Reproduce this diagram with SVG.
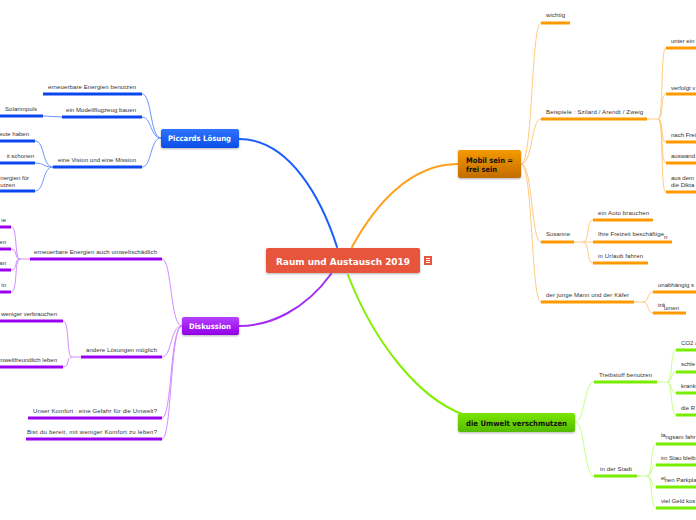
<svg xmlns="http://www.w3.org/2000/svg" width="696" height="520" viewBox="0 0 696 520">
<defs>
<linearGradient id="gBlue" x1="0" y1="0" x2="0" y2="1"><stop offset="0" stop-color="#2f74ff"/><stop offset="1" stop-color="#0a4de6"/></linearGradient>
<linearGradient id="gPurple" x1="0" y1="0" x2="0" y2="1"><stop offset="0" stop-color="#b640ff"/><stop offset="1" stop-color="#9300e6"/></linearGradient>
<linearGradient id="gOrange" x1="0" y1="0" x2="0" y2="1"><stop offset="0" stop-color="#f59a00"/><stop offset="1" stop-color="#c26c00"/></linearGradient>
<linearGradient id="gGreen" x1="0" y1="0" x2="0" y2="1"><stop offset="0" stop-color="#7ae600"/><stop offset="1" stop-color="#55bb00"/></linearGradient>
<filter id="sh" x="-10%" y="-20%" width="120%" height="150%"><feDropShadow dx="0" dy="1" stdDeviation="0.8" flood-color="#000" flood-opacity="0.3"/></filter>
</defs>
<style>
text{font-family:"Liberation Sans",Arial,sans-serif;}
.t{font-size:6px;fill:#333;}
.nt{font-family:"DejaVu Sans","Liberation Sans",sans-serif;font-weight:bold;}
.main{fill:none;stroke-width:2;stroke-linecap:round;}
.sub{fill:none;stroke-width:1;}
.ul{fill:none;stroke-width:3;stroke-linecap:butt;}
.b{stroke:#6f94ff;} .bu{stroke:#0a47ee;}
.p{stroke:#cf8cff;} .pu{stroke:#9b00f0;}
.o{stroke:#ffcb80;} .ou{stroke:#ff9900;}
.g{stroke:#c6ff8a;} .gu{stroke:#77ee00;}
</style>
<rect width="696" height="520" fill="#fff"/>

<g id="connectors">
<path class="main" stroke="#1a5cff" d="M337,247 C322,200 290,139 239,139"/>
<path class="main" stroke="#ff9f1a" d="M352,247 C375,205 410,164 458,164"/>
<path class="main" stroke="#a52cf5" d="M331,274 C305,310 270,326 239,326"/>
<path class="main" stroke="#80f000" d="M348,275 C375,345 420,398 462,414"/>

<path class="sub b" d="M161,138 C150,138 152,94 142,94"/>
<path class="sub b" d="M161,138 C150,138 152,117 142,117"/>
<path class="sub b" d="M161,138 C150,138 152,167 142,167"/>
<path class="sub b" d="M62,117 L43,116"/>
<path class="sub b" d="M53,167 C42,167 45,141 35,141"/>
<path class="sub b" d="M53,167 C42,167 45,163 35,163"/>
<path class="sub b" d="M53,167 C42,167 45,191 35,191"/>

<path class="sub p" d="M182,326 C170,326 172,259 162,259"/>
<path class="sub p" d="M182,326 C170,326 172,357 162,357"/>
<path class="sub p" d="M182,326 C170,326 172,418 162,418"/>
<path class="sub p" d="M182,326 C170,326 172,439 162,439"/>
<path class="sub p" d="M30,259 L20,259"/>
<path class="sub p" d="M20,259 C14,259 18,227 11,227"/>
<path class="sub p" d="M20,259 C14,259 18,249 11,249"/>
<path class="sub p" d="M20,259 C14,259 18,270 11,270"/>
<path class="sub p" d="M20,259 C14,259 18,292 11,292"/>
<path class="sub p" d="M81,357 L72,357"/>
<path class="sub p" d="M72,357 C66,357 70,321 63,321"/>
<path class="sub p" d="M72,357 C66,357 70,367 63,367"/>

<path class="sub o" d="M521,164 C533,164 531,23 541,23"/>
<path class="sub o" d="M521,164 C533,164 531,119 541,119"/>
<path class="sub o" d="M521,164 C533,164 531,242 541,242"/>
<path class="sub o" d="M521,164 C533,164 531,302 541,302"/>
<path class="sub o" d="M647,119 L658,119"/>
<path class="sub o" d="M658,119 C664,119 660,48 666,48"/>
<path class="sub o" d="M658,119 C664,119 660,94 666,94"/>
<path class="sub o" d="M658,119 C664,119 660,142 666,142"/>
<path class="sub o" d="M658,119 C664,119 660,163 666,163"/>
<path class="sub o" d="M658,119 C664,119 660,192 666,192"/>
<path class="sub o" d="M574,242 L583,242"/>
<path class="sub o" d="M583,242 C590,242 586,220 593,220"/>
<path class="sub o" d="M583,242 L593,242"/>
<path class="sub o" d="M583,242 C590,242 586,263 593,263"/>
<path class="sub o" d="M634,302 L643,302"/>
<path class="sub o" d="M643,302 C649,302 647,292 653,292"/>
<path class="sub o" d="M643,302 C649,302 647,313 653,313"/>

<path class="sub g" d="M575,422 C585,422 584,382 594,382"/>
<path class="sub g" d="M575,422 C585,422 584,476 594,476"/>
<path class="sub g" d="M657,382 L667,382"/>
<path class="sub g" d="M667,382 C673,382 670,350 676,350"/>
<path class="sub g" d="M667,382 C673,382 670,372 676,372"/>
<path class="sub g" d="M667,382 C673,382 670,393 676,393"/>
<path class="sub g" d="M667,382 C673,382 670,415 676,415"/>
<path class="sub g" d="M637,476 L647,476"/>
<path class="sub g" d="M647,476 C653,476 650,444 656,444"/>
<path class="sub g" d="M647,476 C653,476 650,465 656,465"/>
<path class="sub g" d="M647,476 C653,476 650,487 656,487"/>
<path class="sub g" d="M647,476 C653,476 650,508 656,508"/>
</g>

<g id="center">
<rect x="266" y="248" width="154" height="25" rx="2" fill="#e8553d" filter="url(#sh)"/>
<text class="nt" x="343" y="264.5" text-anchor="middle" font-size="9.5" fill="#fff" textLength="134" lengthAdjust="spacingAndGlyphs">Raum und Austausch 2019</text>
<rect x="424" y="256" width="8" height="9" fill="#e8553d"/>
<path d="M426,258.5 H430 M426,260.5 H430 M426,262.5 H430" stroke="#fff" stroke-width="1"/>
</g>

<g id="piccards">
<rect x="161" y="129" width="78" height="19" rx="2" fill="url(#gBlue)" filter="url(#sh)"/>
<text class="nt" x="168" y="141" font-size="7.5" fill="#fff" textLength="63" lengthAdjust="spacingAndGlyphs">Piccards Lösung</text>
</g>
<g id="p1"><path class="ul bu" d="M43,94 H142"/><text class="t" x="48" y="89" textLength="88">erneuerbare Energien benutzen</text></g>
<g id="p2"><path class="ul bu" d="M62,117 H142"/><text class="t" x="66" y="112" textLength="70">ein Modellflugzeug bauen</text></g>
<g id="p2a"><path class="ul bu" d="M0,116 H43"/><text class="t" x="5" y="111" textLength="32">Solarimpuls</text></g>
<g id="p3"><path class="ul bu" d="M53,167 H142"/><text class="t" x="58" y="162" textLength="78">eine Vision und eine Mission</text></g>
<g id="p3a"><path class="ul bu" d="M0,141 H35"/><text class="t" x="29" y="136" text-anchor="end">eute haben</text></g>
<g id="p3b"><path class="ul bu" d="M0,163 H35"/><text class="t" x="34" y="158" text-anchor="end">it schonen</text></g>
<g id="p3c"><path class="ul bu" d="M0,191 H35"/><text class="t" x="29" y="180" text-anchor="end">nergien für</text><text class="t" x="15" y="187" text-anchor="end">utzen</text></g>

<g id="diskussion">
<rect x="182" y="317" width="57" height="18" rx="2" fill="url(#gPurple)" filter="url(#sh)"/>
<text class="nt" x="189" y="328.5" font-size="7.5" fill="#fff" textLength="42" lengthAdjust="spacingAndGlyphs">Diskussion</text>
</g>
<g id="d1"><path class="ul pu" d="M30,259 H162"/><text class="t" x="34" y="254" textLength="123">erneuerbare Energien auch umweltschädlich</text></g>
<g id="d1a"><path class="ul pu" d="M0,227 H11"/><text class="t" x="6" y="222" text-anchor="end">ie</text></g>
<g id="d1b"><path class="ul pu" d="M0,249 H11"/><text class="t" x="6" y="244" text-anchor="end">en</text></g>
<g id="d1c"><path class="ul pu" d="M0,270 H11"/><text class="t" x="6" y="265" text-anchor="end">an</text></g>
<g id="d1d"><path class="ul pu" d="M0,292 H11"/><text class="t" x="6" y="287" text-anchor="end">in</text></g>
<g id="d2"><path class="ul pu" d="M81,357 H162"/><text class="t" x="86" y="352" textLength="71">andere Lösungen möglich</text></g>
<g id="d2a"><path class="ul pu" d="M0,321 H63"/><text class="t" x="57" y="316" text-anchor="end">weniger verbrauchen</text></g>
<g id="d2b"><path class="ul pu" d="M0,367 H63"/><text class="t" x="57" y="362" text-anchor="end">mweltfreundlich leben</text></g>
<g id="d3"><path class="ul pu" d="M28,418 H162"/><text class="t" x="33" y="413" textLength="124">Unser Komfort : eine Gefahr für die Umwelt?</text></g>
<g id="d4"><path class="ul pu" d="M26,439 H162"/><text class="t" x="27" y="434" textLength="130">Bist du bereit, mit weniger Komfort zu leben?</text></g>

<g id="mobil">
<rect x="458" y="150" width="63" height="28" rx="2" fill="url(#gOrange)" filter="url(#sh)"/>
<text class="nt" x="466" y="163" font-size="7.5" fill="#111" textLength="47" lengthAdjust="spacingAndGlyphs">Mobil sein =</text>
<text class="nt" x="466" y="171.5" font-size="7.5" fill="#111" textLength="31" lengthAdjust="spacingAndGlyphs">frei sein</text>
</g>
<g id="m1"><path class="ul ou" d="M541,23 H570"/><text class="t" x="546" y="17" textLength="19">wichtig</text></g>
<g id="m2"><path class="ul ou" d="M541,119 H647"/><text class="t" x="546" y="114" textLength="97">Beispiele : Szilard / Arendt / Zweig</text></g>
<g id="m2a"><path class="ul ou" d="M666,48 H696"/><text class="t" x="671" y="43">unter ein</text></g>
<g id="m2b"><path class="ul ou" d="M666,94 H696"/><text class="t" x="671" y="90">verfolgt v</text></g>
<g id="m2c"><path class="ul ou" d="M666,142 H696"/><text class="t" x="671" y="137">nach Frei</text></g>
<g id="m2d"><path class="ul ou" d="M666,163 H696"/><text class="t" x="671" y="158">auswand</text></g>
<g id="m2e"><path class="ul ou" d="M666,192 H696"/><text class="t" x="671" y="180">aus dem</text><text class="t" x="671" y="187">die Dikta</text></g>
<g id="m3"><path class="ul ou" d="M541,242 H574"/><text class="t" x="546" y="236" textLength="24">Susanne</text></g>
<g id="m3a"><path class="ul ou" d="M593,220 H653"/><text class="t" x="598" y="215" textLength="51">ein Auto brauchen</text></g>
<g id="m3b"><path class="ul ou" d="M593,242 H672"/><text class="t" x="598" y="236" textLength="66">Ihre Freizeit beschäftige</text><text class="t" x="664" y="239">n</text></g>
<g id="m3c"><path class="ul ou" d="M593,263 H648"/><text class="t" x="598" y="258" textLength="45">in Urlaub fahren</text></g>
<g id="m4"><path class="ul ou" d="M541,302 H634"/><text class="t" x="546" y="297" textLength="83">der junge Mann und der Käfer</text></g>
<g id="m4a"><path class="ul ou" d="M653,292 H696"/><text class="t" x="658" y="287">unabhängig s</text></g>
<g id="m4b"><path class="ul ou" d="M653,313 H686"/><text class="t" x="658" y="307">trä</text><text class="t" x="664" y="310">umen</text></g>

<g id="umwelt">
<rect x="458" y="413" width="117" height="19" rx="2" fill="url(#gGreen)" filter="url(#sh)"/>
<text class="nt" x="466" y="425.5" font-size="7.5" fill="#111" textLength="101" lengthAdjust="spacingAndGlyphs">die Umwelt verschmutzen</text>
</g>
<g id="u1"><path class="ul gu" d="M594,382 H657"/><text class="t" x="599" y="377" textLength="53">Treibstoff benutzen</text></g>
<g id="u1a"><path class="ul gu" d="M676,350 H696"/><text class="t" x="681" y="345">CO2 a</text></g>
<g id="u1b"><path class="ul gu" d="M676,372 H696"/><text class="t" x="681" y="366">schle</text></g>
<g id="u1c"><path class="ul gu" d="M676,393 H696"/><text class="t" x="681" y="388">krank</text></g>
<g id="u1d"><path class="ul gu" d="M676,415 H696"/><text class="t" x="681" y="410">die R</text></g>
<g id="u2"><path class="ul gu" d="M594,476 H637"/><text class="t" x="600" y="471" textLength="32">in der Stadt</text></g>
<g id="u2a"><path class="ul gu" d="M656,444 H696"/><text class="t" x="661" y="437" font-size="4.5">la</text><text class="t" x="665.5" y="439">ngsam fahr</text></g>
<g id="u2b"><path class="ul gu" d="M656,465 H696"/><text class="t" x="661" y="460">im Stau bleib</text></g>
<g id="u2c"><path class="ul gu" d="M656,487 H696"/><text class="t" x="661" y="480" font-size="4">ei</text><text class="t" x="664.5" y="482">nen Parkpla</text></g>
<g id="u2d"><path class="ul gu" d="M656,508 H696"/><text class="t" x="661" y="503">viel Geld kos</text></g>
</svg>
